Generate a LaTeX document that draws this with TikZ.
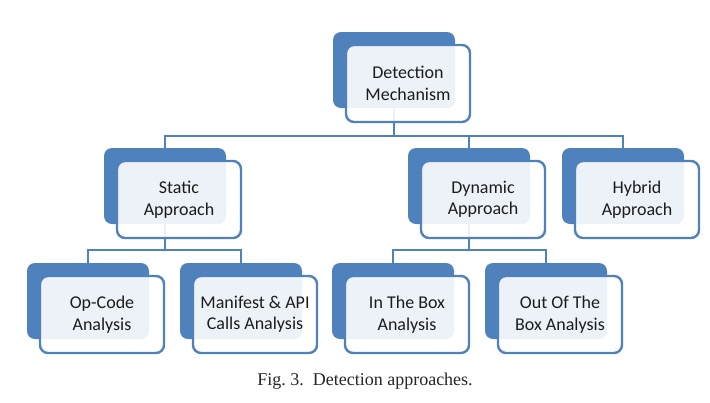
\documentclass[tikz,border=0pt]{standalone}
\usepackage{fontspec}
\setmainfont{Carlito}
\newfontfamily\captionfont{Liberation Serif}
\usepackage{tikz}
\usetikzlibrary{positioning,calc}
\definecolor{officeblue}{RGB}{79,129,189}
\definecolor{textdark}{RGB}{28,28,28}

\begin{document}
\begin{tikzpicture}[x=1pt, y=-1pt,
    backbox/.style={fill=officeblue,rounded corners=8pt,minimum width=122pt,minimum height=76pt,inner sep=0pt},
    frontbox/.style={draw=officeblue,line width=2.4pt,fill=white,fill opacity=0.9,text opacity=1,
      rounded corners=8pt,minimum width=124pt,minimum height=77pt,inner sep=0pt,align=center,
      text=textdark,font=\fontsize{18}{21.5}\selectfont},
    link/.style={draw=officeblue,line width=2.5pt}]
    \useasboundingbox (0,0) rectangle (710,402);

    % back plates
    \node[backbox] (mech) at (394,70) {};
    \node[backbox] (static) at (165,186) {};
    \node[backbox] (dynamic) at (469,186) {};
    \node[backbox] (hybrid) at (623,186) {};
    \node[backbox] (opcode) at (88,301) {};
    \node[backbox] (manifest) at (241,301) {};
    \node[backbox] (inbox) at (393,301) {};
    \node[backbox] (outbox) at (546,301) {};

    % connectors
    \coordinate (mechjoin) at ($(mech.south)+(0,28)$);
    \coordinate (staticjoin) at ($(static.south)+(0,26)$);
    \coordinate (dynamicjoin) at ($(dynamic.south)+(0,26)$);
    \draw[link] (mech.south) -- (mechjoin) -| (static.north);
    \draw[link] (mechjoin) -| (dynamic.north);
    \draw[link] (mechjoin) -| (hybrid.north);
    \draw[link] (static.south) -- (staticjoin) -| (opcode.north);
    \draw[link] (staticjoin) -| (manifest.north);
    \draw[link] (dynamic.south) -- (dynamicjoin) -| (inbox.north);
    \draw[link] (dynamicjoin) -| (outbox.north);

    % text boxes
    \node[frontbox] (mechtext) at ([shift={(14,13.5)}]mech.center) {Detection\\Mechanism};
    \node[frontbox] (statictext) at ([shift={(14,13.5)}]static.center) {Static\\Approach};
    \node[frontbox] (dynamictext) at ([shift={(14,13.5)}]dynamic.center) {Dynamic\\Approach};
    \node[frontbox] (hybridtext) at ([shift={(14,13.5)}]hybrid.center) {Hybrid\\Approach};
    \node[frontbox] (opcodetext) at ([shift={(14,13.5)}]opcode.center) {Op-Code\\Analysis};
    \node[frontbox] (manifesttext) at ([shift={(14,13.5)}]manifest.center) {Manifest \& API\\Calls Analysis};
    \node[frontbox] (inboxtext) at ([shift={(14,13.5)}]inbox.center) {In The Box\\Analysis};
    \node[frontbox] (outboxtext) at ([shift={(14,13.5)}]outbox.center) {Out Of The\\Box Analysis};

    \node[font=\captionfont\fontsize{18}{21}\selectfont,text=black!85] (caption) at (365,381)
      {Fig.~3.\ \ Detection approaches.};
\end{tikzpicture}
\end{document}
